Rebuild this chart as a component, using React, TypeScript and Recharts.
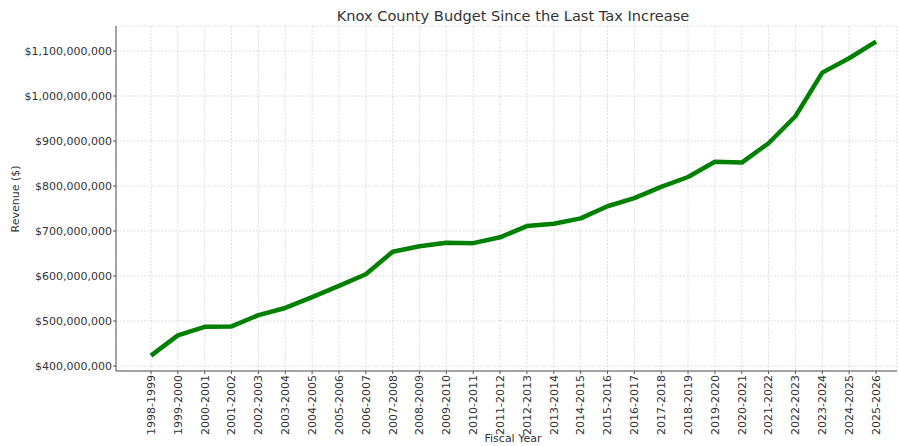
import { LineChart, Line, XAxis, YAxis, CartesianGrid, Label } from "recharts";

const years = [
  "1998-1999", "1999-2000", "2000-2001", "2001-2002", "2002-2003", "2003-2004", "2004-2005",
  "2005-2006", "2006-2007", "2007-2008", "2008-2009", "2009-2010", "2010-2011", "2011-2012",
  "2012-2013", "2013-2014", "2014-2015", "2015-2016", "2016-2017", "2017-2018", "2018-2019",
  "2019-2020", "2020-2021", "2021-2022", "2022-2023", "2023-2024", "2024-2025", "2025-2026",
];

// revenue in millions of dollars
const revenueM = [
  423, 468, 487, 488, 513, 529, 553, 578, 604, 654, 666, 674, 673, 686,
  711, 716, 728, 755, 773, 798, 820, 854, 852, 895, 955, 1052, 1084, 1121,
];

const yTicks = [400e6, 500e6, 600e6, 700e6, 800e6, 900e6, 1000e6, 1100e6];

const data = years.map((year, i) => ({ year, revenue: revenueM[i] * 1e6 }));

const font = "'DejaVu Sans', sans-serif";
const textColor = "#333";
const spine = "#555";

function YearTick(props: any) {
  const { x, y, payload } = props;
  return (
    <text
      x={x}
      y={y}
      transform={`rotate(-90, ${x}, ${y})`}
      textAnchor="end"
      dy="0.35em"
      fontSize={11}
      fill={textColor}
      fontFamily={font}
    >
      {payload.value}
    </text>
  );
}

export default function App() {
  return (
    <div style={{ position: "absolute", left: 0, top: 0, width: 899, height: 446, background: "#fff", fontFamily: font, overflow: "hidden" }}>
      <div
        style={{
          position: "absolute",
          left: 513,
          top: 7,
          transform: "translateX(-50%)",
          whiteSpace: "nowrap",
          fontSize: 14.6,
          lineHeight: "18px",
          color: textColor,
        }}
      >
        Knox County Budget Since the Last Tax Increase
      </div>
      <LineChart width={899} height={446} data={data} margin={{ top: 26, right: 2, left: 0, bottom: 0 }}>
        <CartesianGrid stroke="#d4d4d4" strokeDasharray="2 1.5" strokeWidth={0.8} />
        <XAxis
          dataKey="year"
          interval={0}
          height={75}
          padding={{ left: 35, right: 21 }}
          tick={<YearTick />}
          tickSize={3}
          tickMargin={1}
          axisLine={{ stroke: spine, strokeWidth: 1 }}
          tickLine={{ stroke: spine }}
        >
          <Label
            content={() => (
              <text x={513} y={442} textAnchor="middle" fontSize={11} fill={textColor} fontFamily={font}>
                Fiscal Year
              </text>
            )}
          />
        </XAxis>
        <YAxis
          type="number"
          width={116}
          domain={[388.9e6, 1155.6e6]}
          allowDataOverflow
          ticks={yTicks}
          tickFormatter={(v: number) => `$${v.toLocaleString("en-US")}`}
          tick={{ fontSize: 11, fill: textColor, fontFamily: font }}
          tickSize={3}
          tickMargin={1}
          axisLine={{ stroke: spine, strokeWidth: 1 }}
          tickLine={{ stroke: spine }}
        >
          <Label
            content={() => (
              <text
                x={15}
                y={199}
                transform="rotate(-90, 15, 199)"
                textAnchor="middle"
                dominantBaseline="central"
                fontSize={11}
                fill={textColor}
                fontFamily={font}
              >
                Revenue ($)
              </text>
            )}
          />
        </YAxis>
        <Line
          type="linear"
          dataKey="revenue"
          stroke="#008000"
          strokeWidth={4.5}
          strokeLinejoin="round"
          dot={false}
          isAnimationActive={false}
        />
      </LineChart>
    </div>
  );
}
